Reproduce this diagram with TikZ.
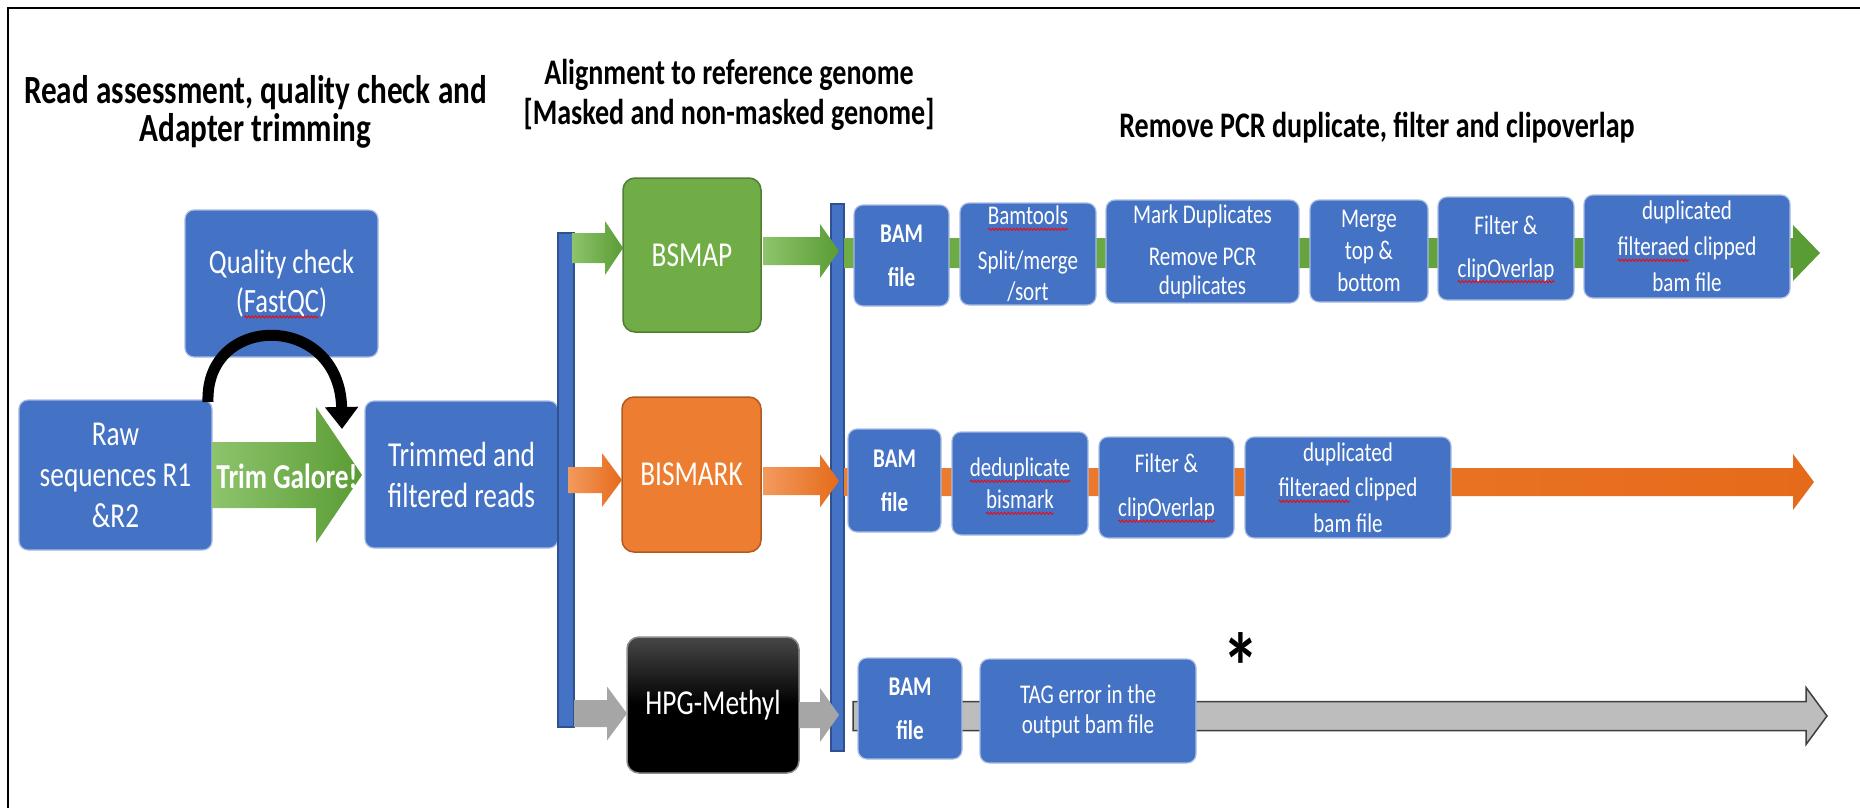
\documentclass[tikz,border=0pt]{standalone}
\usepackage{fontspec}
\setmainfont{Carlito}[FakeStretch=0.78]
\usetikzlibrary{arrows.meta,calc,decorations.pathmorphing}
\definecolor{boxblue}{HTML}{4472C4}
\definecolor{boxedge}{HTML}{A9BCE3}
\definecolor{bardark}{HTML}{2F528F}
\definecolor{gfill}{HTML}{70AD47}
\definecolor{gdark}{HTML}{507E32}
\definecolor{glight}{HTML}{8DC46C}
\definecolor{gdeep}{HTML}{5A9C34}
\definecolor{ofill}{HTML}{ED7D31}
\definecolor{odark}{HTML}{AE5A21}
\definecolor{olight}{HTML}{F39A5E}
\definecolor{odeep}{HTML}{E56B1A}
\definecolor{grayarrow}{HTML}{A6A6A6}
\definecolor{graylong}{HTML}{BDBDBD}
\definecolor{grayline}{HTML}{3F3F3F}
\newlength\sqlen
\newcommand\sq[1]{\settowidth{\sqlen}{#1}#1\tikz[overlay, baseline=0pt]{\draw[red, fill=none,
  line width=0.8bp, sharp corners, decorate, decoration={snake, amplitude=1.1bp, segment length=3.5bp}]
  (-\sqlen,-4.5bp) -- (0pt,-4.5bp);}}
% block arrow: style, start, end, shaft half, head half, head length
\newcommand\blockarrow[6]{\path[#1] let \p1=(#2), \p2=(#3) in
  (\x1,\y1+#4) -- (\x2-#6,\y1+#4) -- (\x2-#6,\y1+#5) -- (\x2,\y1) --
  (\x2-#6,\y1-#5) -- (\x2-#6,\y1-#4) -- (\x1,\y1-#4) -- cycle;}
\tikzset{
  every node/.style={inner sep=0pt, outer sep=0pt},
  bbox/.style={rectangle, rounded corners=9bp, fill=boxblue, draw=boxedge,
    line width=1.2bp, text=white, align=center},
  bigtxt/.style={font=\fontsize{35bp}{41bp}\selectfont},
  smtxt/.style={font=\fontsize{27bp}{33bp}\selectfont},
  bamtxt/.style={font=\fontsize{27bp}{44bp}\selectfont\bfseries},
  titletxt/.style={font=\fontsize{36bp}{40bp}\selectfont\bfseries, align=center},
  vbar/.style={rectangle, fill=boxblue, draw=bardark, line width=1.5bp},
  tool/.style={rectangle, rounded corners=12bp, line width=1.5bp, text=white,
    font=\fontsize{35bp}{41bp}\selectfont},
}
\begin{document}
\begin{tikzpicture}[x=1bp,y=-1bp]
\useasboundingbox (0,0) rectangle (1860,808);
% frame
\draw[line width=2bp] (8,808) -- (8,8) -- (1860,8);
% titles
\node[titletxt, font=\fontsize{40bp}{38bp}\selectfont\bfseries] (t1) at (255.5,112)
  {Read assessment, quality check and\\Adapter trimming};
\node[titletxt] (t2) at (729,95)
  {Alignment to reference genome\\{[}Masked and non-masked genome{]}};
\node[titletxt, anchor=base] (t3) at (1377,137)
  {Remove PCR duplicate, filter and clipoverlap};
% first stage
\node[bbox, bigtxt, minimum width=193bp, minimum height=147bp,
  font=\fontsize{34bp}{39bp}\selectfont] (qc) at (281.5,283.5)
  {Quality check\\(\sq{FastQC})};
\node[bbox, bigtxt, minimum width=193bp, minimum height=150bp] (raw) at (115.5,475)
  {Raw\\sequences R1\\\&R2};
\node[bbox, bigtxt, minimum width=193bp, minimum height=147bp] (trim) at (461.5,474.5)
  {Trimmed and\\filtered reads};
\blockarrow{left color=glight, right color=gdeep}{raw.east}{$(trim.west)+(-3,0)$}{33bp}{68bp}{46bp}
\node[text=white, font=\fontsize{35bp}{41bp}\selectfont\bfseries, anchor=base] (tglbl)
  at (287,488) {Trim Galore!};
\draw[line width=11bp, -{Triangle[width=32bp,length=22bp]}]
  (raw.north east) ++(-4,2) .. controls (205,312) and (340,312) .. (342,429);
% vertical bars
\node[vbar, minimum width=16bp, minimum height=494bp] (bar1) at (566,480) {};
\node[vbar, minimum width=13bp, minimum height=547bp] (bar2) at (837.5,477.5) {};
% aligners
\node[tool, fill=gfill, draw=gdark, minimum width=138bp, minimum height=154bp]
  (bsmap) at (692,255) {BSMAP};
\node[tool, fill=ofill, draw=odark, minimum width=139bp, minimum height=155bp]
  (bismark) at (691.5,474.5) {BISMARK};
\node[tool, top color=black!72, bottom color=black, middle color=black,
  draw=black!45, minimum width=172bp, minimum height=136bp]
  (hpg) at (713,705) {HPG-Methyl};
% short arrows
\blockarrow{left color=glight, right color=gdeep}{$(bar1.east |- bsmap.west)+(-2,-7)$}{$(bsmap.west)+(0,-7)$}{15bp}{27bp}{18bp}
\blockarrow{left color=glight, right color=gdeep}{$(bsmap.east)+(2,-4)$}{$(bar2.west |- bsmap.east)+(8,-4)$}{14bp}{27bp}{19bp}
\blockarrow{left color=olight, right color=odeep}{$(bar1.east |- bismark.west)+(-6,5.5)$}{$(bismark.west)+(0,5.5)$}{13bp}{27bp}{20bp}
\blockarrow{left color=olight, right color=odeep}{$(bismark.east)+(2,6.5)$}{$(bar2.west |- bismark.east)+(8,6.5)$}{14bp}{26.5bp}{19bp}
\blockarrow{fill=grayarrow}{$(bar1.east |- hpg.west)+(0,8.5)$}{$(hpg.west)+(0,8.5)$}{13.5bp}{27bp}{20bp}
\blockarrow{fill=grayarrow}{$(hpg.east)+(0,10)$}{$(bar2.west |- hpg.east)+(8,10)$}{13bp}{27bp}{19bp}
% free ends of long arrows
\coordinate (gend) at (1820,253);
\coordinate (oend) at (1814,482);
\coordinate (grend) at (1827,716);
% long arrows behind boxes
\blockarrow{left color=gfill, right color=gdeep}{$(bar2.east |- gend)$}{gend}{15bp}{28bp}{27bp}
\blockarrow{left color=ofill, right color=odeep}{$(bar2.east |- oend)$}{oend}{14bp}{28bp}{21bp}
\blockarrow{fill=graylong, draw=grayline, line width=1.5bp}{$(bar2.east |- grend)+(9,0)$}{grend}{14.5bp}{28.5bp}{21bp}
% row 1 (BSMAP)
\node[bbox, bamtxt, minimum width=95bp, minimum height=101bp] (bam1) at (901.5,255.5) {BAM\\file};
\node[bbox, smtxt, minimum width=136bp, minimum height=102bp,
  font=\fontsize{27bp}{31bp}\selectfont] (bamtools) at (1028,254)
  {\sq{Bamtools}\\[14bp]Split/merge\\/sort};
\node[bbox, smtxt, minimum width=193bp, minimum height=103bp,
  font=\fontsize{27bp}{29bp}\selectfont] (markdup) at (1202.5,251.5)
  {Mark Duplicates\\[13bp]Remove PCR\\duplicates};
\node[bbox, smtxt, minimum width=118bp, minimum height=102bp,
  font=\fontsize{27bp}{32bp}\selectfont] (merge) at (1369,251)
  {Merge\\top \&\\bottom};
\node[bbox, smtxt, minimum width=136bp, minimum height=103bp,
  font=\fontsize{27bp}{43bp}\selectfont] (filt1) at (1506,248.5)
  {Filter \&\\\sq{clipOverlap}};
\node[bbox, smtxt, minimum width=206bp, minimum height=103bp,
  font=\fontsize{27bp}{36bp}\selectfont] (dup1) at (1687,246.5)
  {duplicated\\\sq{filteraed} clipped\\bam file};
% row 2 (BISMARK)
\node[bbox, bamtxt, minimum width=93bp, minimum height=103bp] (bam2) at (894.5,480.5) {BAM\\file};
\node[bbox, smtxt, minimum width=136bp, minimum height=103bp,
  font=\fontsize{27bp}{32bp}\selectfont] (dedup) at (1020,483.5)
  {\sq{deduplicate}\\\sq{bismark}};
\node[bbox, smtxt, minimum width=135bp, minimum height=101bp,
  font=\fontsize{27bp}{44bp}\selectfont] (filt2) at (1166.5,487.5)
  {Filter \&\\\sq{clipOverlap}};
\node[bbox, smtxt, minimum width=206bp, minimum height=101bp,
  font=\fontsize{27bp}{35.5bp}\selectfont] (dup2) at (1348,487.5)
  {duplicated\\\sq{filteraed} clipped\\bam file};
% row 3 (HPG-Methyl)
\node[bbox, bamtxt, minimum width=104bp, minimum height=101bp] (bam3) at (910,708.5) {BAM\\file};
\node[bbox, smtxt, minimum width=216bp, minimum height=104bp,
  font=\fontsize{27bp}{30bp}\selectfont] (tag) at (1088,711)
  {TAG error in the\\output bam file};
\node[font=\fontsize{95bp}{95bp}\selectfont\bfseries, anchor=base] (star) at (1241,700) {*};
\end{tikzpicture}
\end{document}
